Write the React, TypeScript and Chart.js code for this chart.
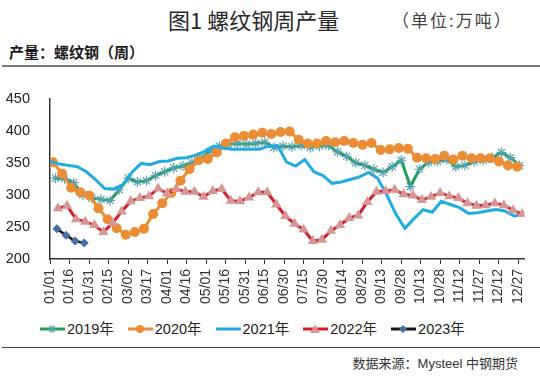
import React, { useEffect, useRef } from "react";
import { Chart, registerables } from "chart.js";
Chart.register(...registerables);

// x-axis tick labels (every 15 days, day-of-year from 01/01)
const tickLabels = ["01/01","01/16","01/31","02/15","03/02","03/17","04/01","04/16","05/01","05/16","05/31","06/15","06/30","07/15","07/30","08/14","08/29","09/13","09/28","10/13","10/28","11/12","11/27","12/12","12/27"];
const tickStepDays = 15;
const weekStepDays = 7;

const seriesNames = ["2019年", "2020年", "2021年", "2022年", "2023年"];
// day-of-year of the first weekly observation of each year
const firstDay2019 = 4.2;
const firstDay2020 = 2.3;
const firstDay2021 = 0;
const firstDay2022 = 6.1;
const firstDay2023 = 5.3;

// weekly output, 10k tonnes
const values2019 = [326,325,319,300,295,293,291,308,326,320,322,330,336,342,345,350,358,368,376,379,380,379,380,382,374,376,375,377,374,376,377,367,360,350,346,340,335,344,354,313,340,351,352,355,344,346,352,354,358,366,358,346];
const values2020 = [351,333,311,304,299,279,262,248,238,242,247,270,287,303,322,340,354,356,366,380,390,392,394,397,395,398,399,386,380,380,384,382,384,381,378,381,370,371,373,372,358,357,356,361,355,361,357,357,357,352,346,344];
const values2021 = [352,348,346,344,336,324,310,309,316,335,349,347,352,353,357,358,362,368,376,373,371,371,371,371,376,377,351,345,355,336,330,318,320,324,328,335,326,300,270,248,263,277,273,290,285,280,271,272,275,277,275,267,269];
const values2022 = [279,283,262,258,253,242,256,274,290,295,298,310,302,309,305,305,297,306,309,291,290,296,304,304,285,267,255,246,228,230,244,253,264,268,289,305,306,308,301,299,292,297,303,298,295,287,283,284,287,284,276,270];
const values2023 = [247,237,228,225];

const yTicks = { min: 200, max: 450, step: 50 };

const C19 = "rgb(34,158,88)";
const C19m = "rgb(84,160,176)";
const C20 = "rgb(234,141,52)";
const C21 = "rgb(32,172,226)";
const C22 = "rgb(214,28,36)";
const C22m = "rgb(214,150,150)";
const C23 = "rgb(20,20,20)";
const C23m = "rgb(72,110,168)";

const numFont = "'Liberation Sans', Arial, sans-serif";
const cjkFont = "'Liberation Sans', 'Noto Sans CJK SC', sans-serif";

function toPoints(first: number, vals: number[]) {
  return vals.map((v, i) => ({ x: first + i * weekStepDays, y: v }));
}

function LegendIcon({ kind }: { kind: number }) {
  const line = [C19, C20, C21, C22, C23][kind];
  let marker: any = null;
  if (kind === 0) {
    marker = (
      <g stroke={C19m} strokeWidth={1.2}>
        <line x1={8} y1={6} x2={16} y2={6} />
        <line x1={12} y1={2} x2={12} y2={10} />
        <line x1={9.2} y1={3.2} x2={14.8} y2={8.8} />
        <line x1={9.2} y1={8.8} x2={14.8} y2={3.2} />
      </g>
    );
  } else if (kind === 1) {
    marker = <circle cx={12} cy={6} r={4} fill={C20} />;
  } else if (kind === 3) {
    marker = <polygon points="12,1.5 17,10 7,10" fill={C22m} />;
  } else if (kind === 4) {
    marker = <polygon points="12,2 16,6 12,10 8,6" fill={C23m} />;
  }
  return (
    <svg width={25} height={12} style={{ display: "block" }}>
      <line x1={0} y1={6} x2={25} y2={6} stroke={line} strokeWidth={3} />
      {marker}
    </svg>
  );
}

export default function App() {
  const ref = useRef<HTMLCanvasElement>(null);
  useEffect(() => {
    const canvas = ref.current!;
    const chart = new Chart(canvas, {
      type: "line",
      data: {
        datasets: [
          {
            label: seriesNames[0], data: toPoints(firstDay2019, values2019), order: 5,
            borderColor: C19, borderWidth: 3, tension: 0,
            pointStyle: "star", pointRadius: 5, pointBorderColor: C19m, pointBackgroundColor: C19m, pointBorderWidth: 1.2,
          },
          {
            label: seriesNames[1], data: toPoints(firstDay2020, values2020), order: 4,
            borderColor: C20, borderWidth: 3, tension: 0,
            pointStyle: "circle", pointRadius: 5, pointBorderColor: C20, pointBackgroundColor: C20, pointBorderWidth: 0,
          },
          {
            label: seriesNames[2], data: toPoints(firstDay2021, values2021), order: 3,
            borderColor: C21, borderWidth: 3, tension: 0, pointRadius: 0,
          },
          {
            label: seriesNames[3], data: toPoints(firstDay2022, values2022), order: 2,
            borderColor: C22, borderWidth: 3, tension: 0,
            pointStyle: "triangle", pointRadius: 6, pointBorderColor: C22m, pointBackgroundColor: C22m, pointBorderWidth: 0,
          },
          {
            label: seriesNames[4], data: toPoints(firstDay2023, values2023), order: 1,
            borderColor: C23, borderWidth: 2.5, tension: 0,
            pointStyle: "rectRot", pointRadius: 4.5, pointBorderColor: C23m, pointBackgroundColor: C23m, pointBorderWidth: 0,
          },
        ],
      },
      options: {
        animation: false,
        responsive: false,
        maintainAspectRatio: false,
        layout: { padding: { left: 0, right: 12, top: 13, bottom: 0 } },
        plugins: { legend: { display: false }, tooltip: { enabled: false }, title: { display: false } },
        scales: {
          x: {
            type: "linear",
            min: 0,
            max: 365,
            afterBuildTicks: (s: any) => {
              s.ticks = tickLabels.map((_, i) => ({ value: i * tickStepDays }));
            },
            afterFit: (s: any) => { s.height = 51; },
            ticks: {
              autoSkip: false, minRotation: 90, maxRotation: 90, padding: 5,
              color: "#333", font: { family: numFont, size: 14 },
              callback: (_v: any, i: number) => tickLabels[i],
            },
            grid: { display: true, drawOnChartArea: false, drawTicks: true, tickLength: 5, color: "#333", lineWidth: 1 },
            border: { display: true, color: "#333", width: 1.5 },
          },
          y: {
            min: yTicks.min,
            max: yTicks.max,
            afterFit: (s: any) => { s.width = 50; },
            ticks: { stepSize: yTicks.step, padding: 12, color: "#222", font: { family: numFont, size: 14.5 } },
            grid: { display: false },
            border: { display: true, color: "#333", width: 1.5 },
          },
        },
      },
    });
    return () => chart.destroy();
  }, []);

  return (
    <div style={{ position: "relative", width: 540, height: 378, background: "#fff", overflow: "hidden", fontFamily: cjkFont }}>
      <style>{`body{margin:0}`}</style>
      <div style={{ position: "absolute", left: 168, top: 6, fontSize: 22, lineHeight: "26px", color: "#2a2a2a", fontFamily: "'Noto Sans CJK SC', sans-serif", whiteSpace: "nowrap" }}>
        图1 螺纹钢周产量
      </div>
      <div style={{ position: "absolute", left: 392, top: 9, fontSize: 17, lineHeight: "22px", letterSpacing: 2, color: "#444", fontFamily: "'Noto Sans CJK SC', serif", whiteSpace: "nowrap" }}>
        （单位:万吨）
      </div>
      <div style={{ position: "absolute", left: 9, top: 43, fontSize: 15, lineHeight: "18px", fontWeight: 700, color: "#1a1a1a", fontFamily: "'Noto Sans CJK SC', sans-serif", whiteSpace: "nowrap" }}>
        产量：螺纹钢（周）
      </div>
      <div style={{ position: "absolute", left: 2, top: 65, width: 538, height: 2, background: "#7a7a7a" }} />
      <canvas ref={ref} width={540} height={232} style={{ position: "absolute", left: 0, top: 78, width: 540, height: 232 }} />
      <div style={{ position: "absolute", left: 40, top: 320, display: "flex", alignItems: "center", gap: 14, fontSize: 14.5, lineHeight: "18px", color: "#222", whiteSpace: "nowrap" }}>
        {seriesNames.map((n, k) => (
          <div key={n} style={{ display: "flex", alignItems: "center", gap: 2 }}>
            <LegendIcon kind={k} />
            <span>{n}</span>
          </div>
        ))}
      </div>
      <div style={{ position: "absolute", left: 2, top: 347, width: 538, height: 1, background: "#444" }} />
      <div style={{ position: "absolute", right: 22, top: 355, fontSize: 13, lineHeight: "18px", color: "#333", whiteSpace: "nowrap" }}>
        数据来源：Mysteel 中钢期货
      </div>
    </div>
  );
}
